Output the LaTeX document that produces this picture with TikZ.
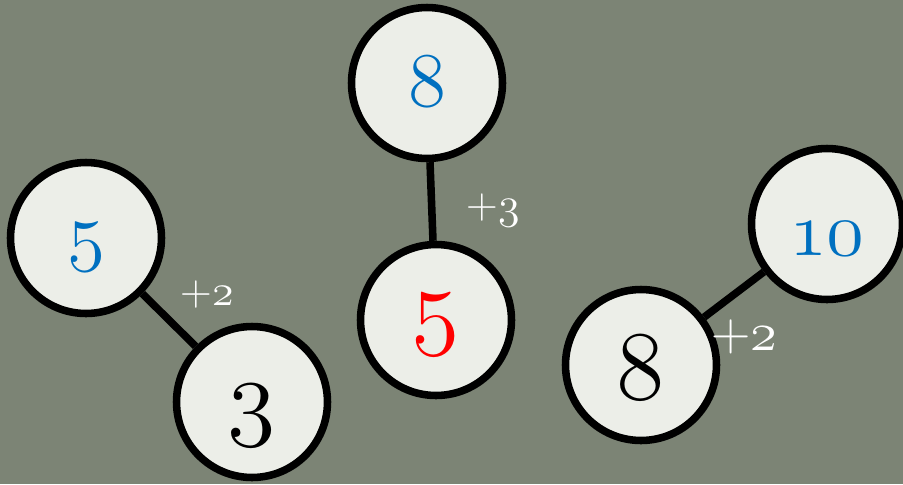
\RequirePackage{fix-cm}
\documentclass[tikz,border=0pt]{standalone}
\usetikzlibrary{positioning}

\definecolor{slate}{RGB}{124,132,117}
\definecolor{chalk}{RGB}{236,238,232}
\definecolor{keyblue}{RGB}{0,112,192}
\newcommand{\osnum}[1]{{\usefont{OML}{cmm}{m}{it}#1}}

\begin{document}
\begin{tikzpicture}[
  x=0.02cm, y=-0.02cm,
  vertex/.style={
    circle,
    draw,
    line width=4.3pt,
    fill=chalk,
    minimum size=3.02cm,
    inner sep=0pt
  },
  small/.style={font=\fontsize{44}{48}\selectfont,text=keyblue},
  big/.style={font=\fontsize{56}{60}\selectfont},
  drop/.style={text height=#1,text depth=0pt},
  link/.style={line width=4.3pt},
  gain/.style={text=white,font=\fontsize{25}{28}\selectfont}
]
  \useasboundingbox (0,0) rectangle (903,484);
  \fill[slate] (0,0) rectangle (903,484);

  % Left pair: 5 over 3.
  \node[vertex,small,drop=20.5pt] (leftTop) at (86,238) {\osnum{5}};
  \node[vertex,big,drop=28.5pt] (leftLow) at (252,402) {\osnum{3}};
  \draw[link] (leftTop) -- (leftLow);
  \node[gain] (leftGain) at (207,295) {+\osnum{2}};

  % Middle pair: 8 over a red 5.
  \node[vertex,small,drop=26.7pt] (midTop) at (427,83) {\osnum{8}};
  \node[vertex,big,drop=19.3pt,text=red] (midLow) at (436,320) {\osnum{5}};
  \draw[link] (midTop) -- (midLow);
  \node[gain] (midGain) at (493,210) {+\osnum{3}};

  % Right pair: 10 beside 8.
  \node[vertex,small,drop=36.4pt] (rightTop) at (827,224) {\osnum{10}};
  \node[vertex,big,drop=38.7pt] (rightLow) at (641,365) {\osnum{8}};
  \draw[link] (rightTop) -- (rightLow);
  \node[gain,font=\fontsize{31}{34}\selectfont] (rightGain) at (744,337) {+\osnum{2}};
\end{tikzpicture}
\end{document}
